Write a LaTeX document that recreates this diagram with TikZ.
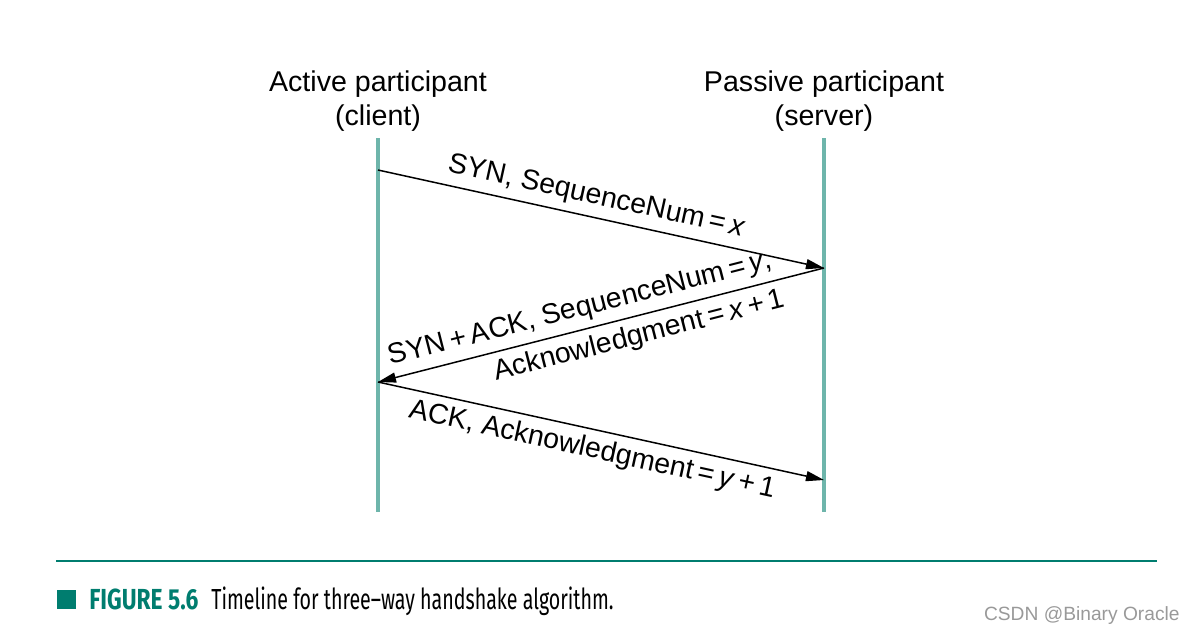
\documentclass[tikz,border=0pt]{standalone}
\usepackage{fontspec}
\setmainfont{Liberation Sans}
\newfontfamily\capfont[FakeStretch=0.677]{Fira Sans}
\newfontfamily\capbold[FakeStretch=0.785]{Fira Sans}
\usetikzlibrary{arrows.meta}
\definecolor{lifeteal}{RGB}{110,181,171}
\definecolor{capteal}{RGB}{0,125,111}
\tikzset{
  lifeline/.style={draw=lifeteal, line width=1.6pt},
  msg/.style={draw=black, line width=0.75pt, -{Triangle[length=9pt,width=5pt]}},
  msglabel/.style={font=\fontsize{14.2}{17}\selectfont, sloped},
  party/.style={align=center, font=\fontsize{14.3}{17}\selectfont},
  captext/.style={anchor=base west, inner sep=0pt, font=\capfont\fontsize{14.5}{17}\selectfont},
}
\begin{document}
\begin{tikzpicture}[x=0.5pt, y=-0.5pt]
  \useasboundingbox (0,0) rectangle (1196,634);
  \node [party] (A0_0) at (378,101) {Active participant\\(client)};
  \node [party] (A0_1) at (824,101) {Passive participant\\(server)};
  \coordinate (L0_0) at (378,138);
  \coordinate (L1_0) at (378,512);
  \coordinate (L0_1) at (824,138);
  \coordinate (L1_1) at (824,512);
  \coordinate (M0) at (378,170);
  \coordinate (M1) at (824,268);
  \coordinate (M2) at (378,382);
  \coordinate (M3) at (824,480);
  \path (L0_0) edge [lifeline] (L1_0);
  \path (L0_1) edge [lifeline] (L1_1);
  \path (M0) edge [msg] node [msglabel, above, pos=0.48] {SYN, SequenceNum\,=\,\textit{x}} (M1);
  \path (M1) edge [msg] node [msglabel, above, pos=0.535] {SYN\,+\,ACK, SequenceNum\,=\,\textit{y},}
    node [msglabel, below, pos=0.425] {Acknowledgment\,=\,\textit{x}\,+\,1} (M2);
  \path (M2) edge [msg] node [msglabel, below, pos=0.49] {ACK, Acknowledgment\,=\,\textit{y}\,+\,1} (M3);
  % caption
  \coordinate (R0) at (56,561);
  \coordinate (R1) at (1157,561);
  \path (R0) edge [draw=capteal, line width=1pt] (R1);
  \fill [capteal] (57,590) rectangle (76,609);
  \node [captext, text=capteal, font=\capbold\fontsize{14.5}{17}\selectfont\bfseries] (F0) at (89,609) {FIGURE 5.6};
  \node [captext] (F1) at (211,609) {Timeline for three–way handshake algorithm.};
  \node [anchor=base east, inner sep=0pt, text=gray!80, font=\fontsize{9.6}{11}\selectfont] (W0) at (1180,620) {CSDN @Binary Oracle};
\end{tikzpicture}
\end{document}
